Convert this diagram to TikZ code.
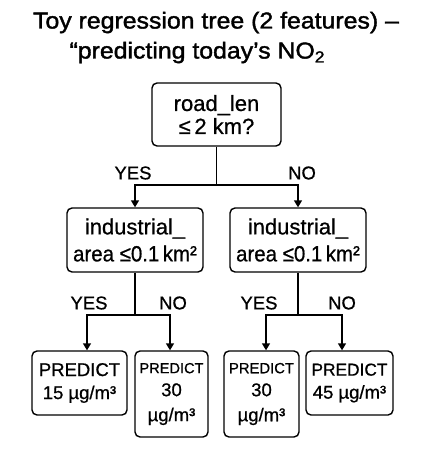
\documentclass[tikz,border=0pt]{standalone}
\usepackage{fontspec}
\setmainfont[FakeBold=0.7]{Liberation Sans}
\newfontfamily\titlefont[FakeBold=1.6,FakeStretch=1.08]{Liberation Sans}
\usetikzlibrary{arrows.meta}
\begin{document}
\begin{tikzpicture}[x=1pt,y=-1pt,
  box/.style={draw,line width=1.4pt,rounded corners=5pt,inner sep=0pt,align=center},
  lbl/.style={inner sep=0pt,font=\fontsize{18.5}{20}\selectfont},
  arr/.style={line width=1.4pt,-{Triangle[width=8pt,length=7pt]}},
  con/.style={line width=1.4pt}]
\useasboundingbox[fill=white] (0,0) rectangle (432,449);
% title
\node[font=\titlefont\fontsize{23}{26}\selectfont, anchor=base, inner sep=0pt] (t1) at (216,28.5) {Toy regression tree (2 features) –};
\node[font=\titlefont\fontsize{23}{26}\selectfont, anchor=base, inner sep=0pt] (t2) at (197,58.5) {“predicting today’s NO\raisebox{-4pt}{\fontsize{16}{16}\selectfont 2}};
% root
\node[box, minimum width=129pt, minimum height=63pt, font=\fontsize{22}{23}\selectfont] (root) at (216.5,114.5) {road\_len\\≤\,2 km?};
% mid
\node[box, minimum width=136pt, minimum height=64pt, font=\fontsize{22}{27}\selectfont] (midL) at (135,240) {industrial\_\\\scalebox{0.93}[1]{area ≤0.1\,km²}};
\node[box, minimum width=136pt, minimum height=64pt, font=\fontsize{22}{27}\selectfont] (midR) at (298,240) {industrial\_\\\scalebox{0.93}[1]{area ≤0.1\,km²}};
% leaves
\node[box, minimum width=95pt, minimum height=64pt, font=\fontsize{18.5}{23}\selectfont] (leaf1) at (79.5,383) {PREDICT\\15 µg/m³};
\node[box, minimum width=73pt, minimum height=86pt, font=\fontsize{18.5}{23}\selectfont] (leaf2) at (171.5,394) {{\fontsize{14.6}{23}\selectfont PREDICT}\\30\\[2pt]µg/m³};
\node[box, minimum width=75pt, minimum height=86pt, font=\fontsize{18.5}{23}\selectfont] (leaf3) at (261.5,394) {{\fontsize{14.8}{23}\selectfont PREDICT}\\30\\[2pt]µg/m³};
\node[box, minimum width=87pt, minimum height=64pt, font=\fontsize{18.5}{23}\selectfont] (leaf4) at (349.5,383) {{\fontsize{17.3}{23}\selectfont PREDICT}\\45 µg/m³};
% junctions
\coordinate (j0) at (216.5,185);
\coordinate (j1) at (135,315);
\coordinate (j2) at (298,315);
% connectors
\draw[con] (root.south) -- (j0);
\draw[arr] (j0) -| (midL.north);
\draw[arr] (j0) -| (midR.north);
\draw[con] (midL.south) -- (j1);
\draw[arr] (j1) -| ([xshift=7.5pt]leaf1.north);
\draw[arr] (j1) -| ([xshift=-1.5pt]leaf2.north);
\draw[con] (midR.south) -- (j2);
\draw[arr] (j2) -| ([xshift=4.5pt]leaf3.north);
\draw[arr] (j2) -| ([xshift=-7.5pt]leaf4.north);
% labels
\node[lbl] (y0) at (133,173) {YES};
\node[lbl] (n0) at (302,173) {NO};
\node[lbl] (y1) at (89,303) {YES};
\node[lbl] (n1) at (173,303) {NO};
\node[lbl] (y2) at (259,303) {YES};
\node[lbl] (n2) at (342,303) {NO};
\end{tikzpicture}
\end{document}
